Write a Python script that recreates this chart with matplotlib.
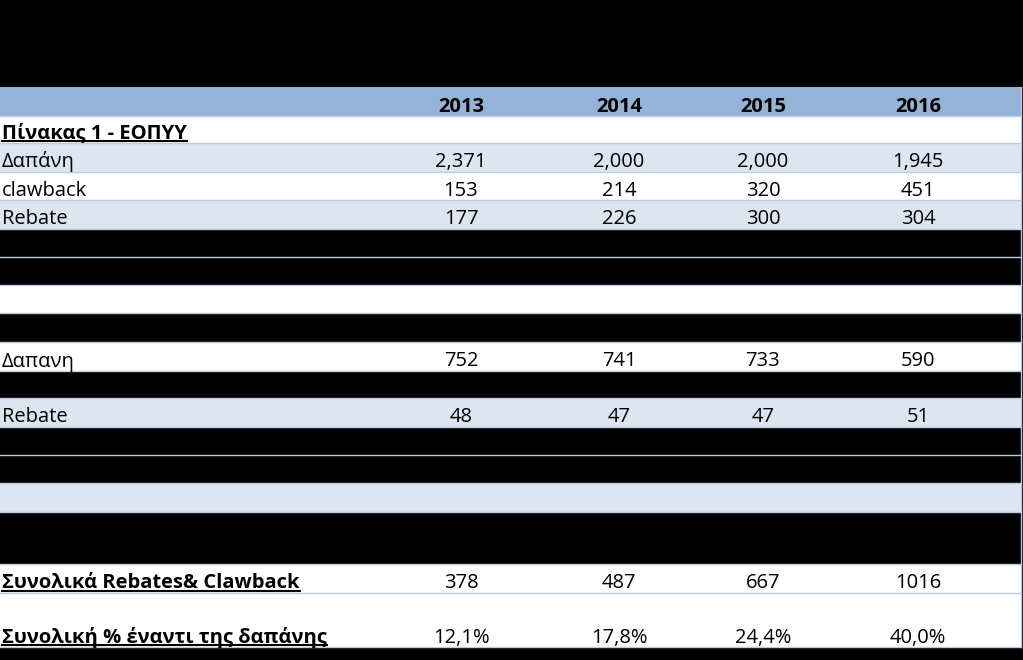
import matplotlib
matplotlib.use("Agg")
import matplotlib.pyplot as plt
from matplotlib.patches import Rectangle

plt.rcParams['font.family'] = ['Open Sans', 'DejaVu Sans']

years = ['2013', '2014', '2015', '2016']
eopyy_spend = [2371, 2000, 2000, 1945]
eopyy_clawback = [153, 214, 320, 451]
eopyy_rebate = [177, 226, 300, 304]
hosp_spend = [752, 741, 733, 590]
hosp_rebate = [48, 47, 47, 51]
total_rebates = [378, 487, 667, 1016]
total_pct = [12.1, 17.8, 24.4, 40.0]

HEADER = '#95b3d7'
LIGHT = '#dce6f1'
WHITE = 'white'
BLACK = 'black'
LINE = '#b8cce4'


def thousands(vals):
    return ['{:,}'.format(v) for v in vals]


def plain(vals):
    return [str(v) for v in vals]


def pct(vals):
    return [('{:.1f}%'.format(v)).replace('.', ',') for v in vals]


# (label, cell texts, fill, bold/underlined label, row height)
rows = [
    ('', years, HEADER, False, 29),
    ('Πίνακας 1 - ΕΟΠΥΥ', None, WHITE, True, 27),
    ('Δαπάνη', thousands(eopyy_spend), LIGHT, False, 29),
    ('clawback', plain(eopyy_clawback), WHITE, False, 28),
    ('Rebate', plain(eopyy_rebate), LIGHT, False, 29),
    ('', None, BLACK, False, 28),
    ('', None, BLACK, False, 28),
    ('', None, WHITE, False, 28),
    ('', None, BLACK, False, 29),
    ('Δαπανη', plain(hosp_spend), WHITE, False, 29),
    ('', None, BLACK, False, 27),
    ('Rebate', plain(hosp_rebate), LIGHT, False, 29),
    ('', None, BLACK, False, 28),
    ('', None, BLACK, False, 28),
    ('', None, LIGHT, False, 29),
    ('', None, BLACK, False, 52),
    ('Συνολικά Rebates& Clawback', plain(total_rebates), WHITE, True, 29),
    ('Συνολική % έναντι της δαπάνης', pct(total_pct), WHITE, True, 54),
]
col_x = [461, 619, 763, 918]
table_top = 87
table_right = 1021
fs = 14.5

fig = plt.figure(figsize=(10.23, 6.6), dpi=100, facecolor='black')
ax = fig.add_axes([0, 0, 1, 1])
ax.set_xlim(0, 1023)
ax.set_ylim(660, 0)
ax.axis('off')

underlined = []
y = table_top
for i, (label, cells, fill, bold, h) in enumerate(rows):
    ax.add_patch(Rectangle((0, y), table_right, h, facecolor=fill, edgecolor='none'))
    base = y + h - 4.5
    if label:
        t = ax.text(2, base, label, fontsize=fs, va='baseline', ha='left',
                    fontweight='bold' if bold else 'normal', color='black')
        if bold:
            underlined.append((t, base))
    if cells:
        for cx, s in zip(col_x, cells):
            ax.text(cx, base, s, fontsize=fs, va='baseline', ha='center',
                    fontweight='bold' if i == 0 else 'normal', color='black')
    y += h
    ax.plot([0, table_right], [y, y], color=LINE, lw=1)

ax.plot([table_right, table_right], [table_top, y], color=LINE, lw=1)

# underline the bold titles
fig.canvas.draw()
r = fig.canvas.get_renderer()
inv = ax.transData.inverted()
for t, base in underlined:
    bb = t.get_window_extent(renderer=r)
    x0, _ = inv.transform((bb.x0, bb.y0))
    x1, _ = inv.transform((bb.x1, bb.y0))
    ax.plot([x0, x1], [base + 2.5, base + 2.5], color='black', lw=1.5)

fig.savefig('out.png', dpi=100, facecolor='black')
